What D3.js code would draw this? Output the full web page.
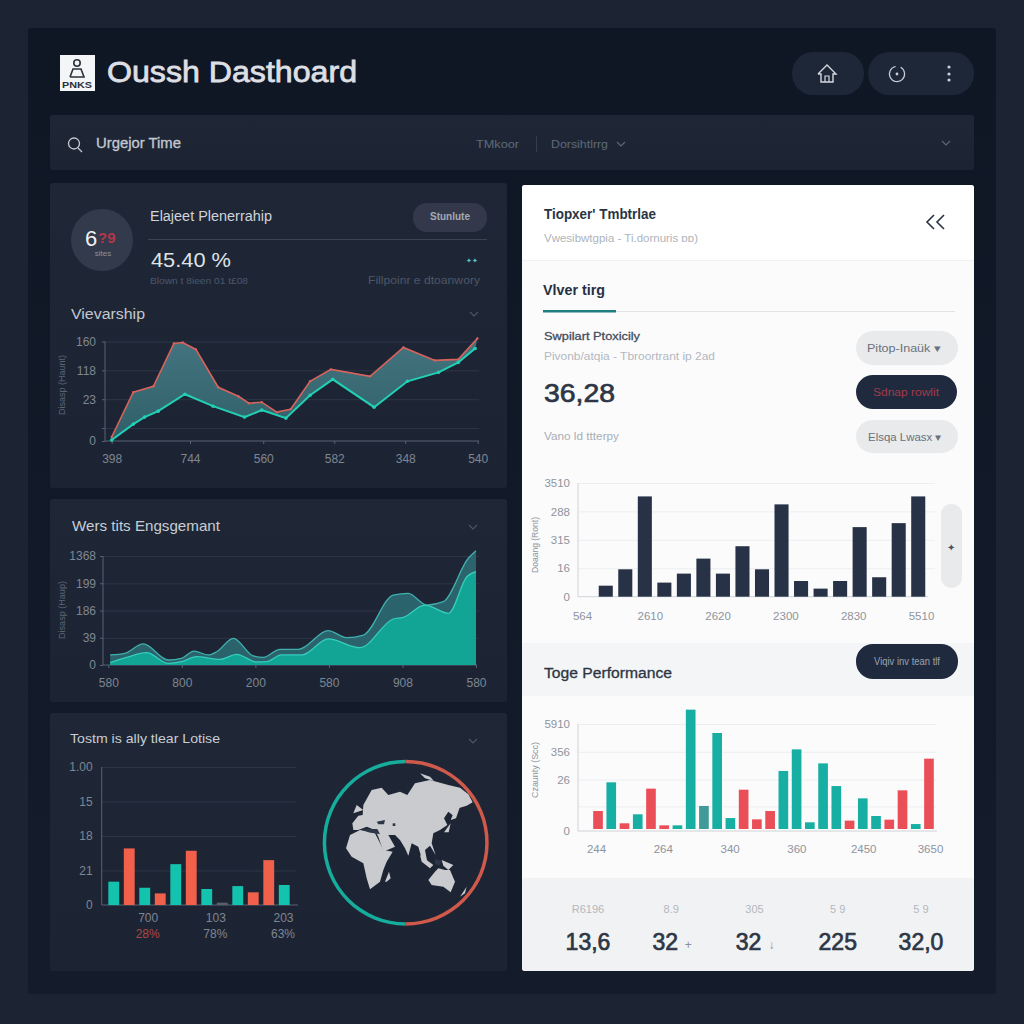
<!DOCTYPE html>
<meta charset="utf-8">
<script src="https://d3js.org/d3.v7.min.js"></script>
<style>
html, body { margin: 0; padding: 0; background: #1c2433; }
svg { display: block; }
text { font-family: "Liberation Sans", Arial, sans-serif; }
</style>
<svg width="1024" height="1024"></svg>

<script>
// viewership chart (top left)
var viewRedX = [0, 5.9, 11.4, 17, 19.4, 23, 29.1, 34.6, 37.5, 41, 45.1, 48.9, 54.2, 59.9, 70.6, 79.7, 88.3, 94.7, 99.9];
var viewRedY = [4, 49, 55, 98, 99, 92, 54, 45, 38, 39, 29, 32, 60, 72, 65, 94, 81, 82, 103];
var viewGreenX = [0, 5.9, 9, 12.7, 20, 27.7, 36.3, 41, 47.6, 54.2, 60.4, 71.7, 80.8, 89.3, 94.7, 99.3];
var viewGreenY = [1, 17, 24, 30, 47, 35, 24, 31, 23, 46, 62, 34, 60, 69, 79, 93];
var viewXLabels = ["398", "744", "560", "582", "348", "540"];
var viewXTicks = [0, 21.4, 41.4, 60.8, 80.2, 100];
var viewYLabels = ["0", "", "23", "118", "160"];
var viewYTicks = [0, 13, 42, 71, 100];

// engagement chart (middle left)
var engBackX = [0.5, 4.5, 9.5, 16.3, 19.9, 23.3, 27.2, 29.5, 34, 39.4, 42.2, 46.7, 51.7, 59.8, 64.8, 69.4, 77.5, 81.6, 86.6, 91.1, 97.9, 100];
var engBackY = [9.2, 10.7, 19.3, 4.6, 6.1, 12.8, 9.2, 12.2, 24.5, 8.3, 7, 14.4, 14.4, 31.5, 25.1, 27.5, 64.2, 65.7, 55, 58.1, 97.9, 104.9];
var engFrontX = [0.5, 5, 10.4, 16.3, 19.9, 24, 30.4, 34.9, 40.3, 43.1, 47.1, 52.6, 59.8, 68.4, 77.5, 80.2, 86.1, 92.5, 97.5, 100];
var engFrontY = [2.1, 7, 11.3, 1.5, 3.1, 7.6, 5.2, 9.8, 2.8, 3.1, 9.2, 9.2, 23.9, 15.9, 42.2, 43.7, 55, 47.4, 81, 85.6];
var engXLabels = ["580", "800", "200", "580", "908", "580"];
var engXTicks = [0, 20, 40, 60, 80, 100];
var engYLabels = ["0", "39", "186", "199", "1368"];
var engYTicks = [0, 25, 50, 75, 100];

// small bar chart (bottom left)
var lossValues = [16.9, 41, 12.5, 8.4, 29.6, 39.3, 11.6, 1.7, 13.7, 9.2, 32.5, 14.5];
var lossColors = ["t", "r", "t", "r", "t", "r", "t", "g", "t", "r", "r", "t"];
var lossYLabels = ["0", "21", "18", "15", "1.00"];
var lossYTicks = [0, 25, 50, 75, 100];
var lossXLabels = ["700", "103", "203"];
var lossXLabels2 = ["28%", "78%", "63%"];

// dark bar chart (right)
var darkValues = [9.7, 24.1, 88.2, 12.4, 20.3, 33.5, 20.3, 44.4, 24.1, 81.2, 13.8, 7.1, 13.8, 61.2, 17.1, 64.7, 88.2];
var darkYLabels = ["0", "16", "315", "288", "3510"];
var darkYTicks = [0, 25, 50, 75, 100];
var darkXLabels = ["564", "2610", "2620", "2300", "2830", "5510"];

// teal/red bar chart (right)
var perfValues = [18.7, 45.5, 7.2, 15.6, 39.6, 5.3, 5.3, 113.4, 23.4, 91.6, 12.1, 38.6, 10.9, 18.7, 56.1, 76.3, 8.1, 63.2, 42, 9.7, 30.5, 14, 10.6, 38, 6.5, 67.6];
var perfColors = ["r", "t", "r", "t", "r", "r", "t", "t", "d", "t", "t", "r", "r", "r", "t", "t", "t", "t", "t", "r", "t", "t", "r", "r", "t", "r"];
var perfYLabels = ["0", "", "26", "356", "5910"];
var perfYTicks = [0, 23, 48, 74, 100];
var perfXLabels = ["244", "264", "340", "360", "2450", "3650"];

// stat row
var statLabels = ["R6196", "8.9", "305", "5 9", "5 9"];
var statValues = ["13,6", "32", "32", "225", "32,0"];
var statMarks = ["", "+", "↓", "", ""];

var barColors = { t: "#17aea3", r: "#ea4f58", g: "#59606c", d: "#3f9a98" };

// rough world outline, in map units (the globe picture in the bottom left panel)
var landShapes = [
	[[97,205],[115,182],[128,180],[130,150],[155,105],[185,98],[205,120],[240,110],[262,120],[285,85],[330,75],[385,90],[420,98],[445,118],[458,142],[440,152],[415,160],[400,182],[385,170],[372,190],[382,210],[360,225],[340,235],[335,265],[347,300],[330,272],[315,285],[322,322],[305,310],[295,275],[275,265],[265,302],[255,280],[240,255],[225,240],[205,240],[225,275],[190,290],[175,245],[165,225],[140,215],[115,225],[100,225]],
	[[78,280],[90,240],[120,225],[165,235],[178,260],[190,285],[218,290],[200,320],[190,345],[180,380],[150,403],[140,370],[130,325],[95,305]],
	[[325,375],[345,350],[355,340],[375,345],[390,345],[405,380],[392,412],[370,395],[335,390]],
	[[195,380],[207,350],[212,370],[200,380]],
	[[300,300],[340,330],[330,340],[305,320]],
	[[365,315],[400,330],[385,345],[370,332]],
	[[405,165],[420,155],[408,190],[392,195]],
	[[372,232],[392,205],[386,232]],
	[[420,425],[440,395],[435,415]],
	[[300,55],[330,65],[342,78],[315,70]],
	[[130,165],[100,175],[110,150]]
];
var waterShapes = [
	[[170,200],[195,195],[192,208],[175,208]],
	[[218,205],[226,205],[226,213],[218,213]],
	[[125,222],[172,222],[180,238],[145,232]],
	[[345,312],[365,318],[358,332],[345,326]]
];

var svg = d3.select("svg");

// gradients for the panels and the filled areas
var defs = svg.append("defs");
function gradient(id, c1, c2) {
	var g = defs.append("linearGradient").attr("id", id).attr("x1", 0).attr("x2", 0).attr("y1", 0).attr("y2", 1);
	g.append("stop").attr("offset", "0%").attr("stop-color", c1);
	g.append("stop").attr("offset", "100%").attr("stop-color", c2);
}
gradient("page", "#0f1725", "#141c2b");
gradient("panel", "#1f2737", "#1c2434");
gradient("viewFill", "#44747f", "#2f5f68");

function box(x, y, w, h, fill, r) {
	return svg.append("rect").attr("x", x).attr("y", y).attr("width", w).attr("height", h)
		.attr("fill", fill).attr("rx", r || 0);
}
function label(txt, x, y, size, fill, opts) {
	opts = opts || {};
	var t = svg.append("text").attr("x", x).attr("y", y).attr("font-size", size).attr("fill", fill)
		.attr("text-anchor", opts.anchor || "start").attr("font-weight", opts.weight || "normal").text(txt);
	if (opts.width) t.attr("textLength", opts.width).attr("lengthAdjust", "spacingAndGlyphs");
	if (opts.rotate) t.attr("transform", "rotate(-90," + x + "," + y + ")");
	if (opts.heavy) t.attr("stroke", fill).attr("stroke-width", opts.heavy);
	return t;
}
function chevron(x, y, c) {
	svg.append("path").attr("d", d3.line()([[x - 4, y - 2], [x, y + 2], [x + 4, y - 2]]))
		.attr("fill", "none").attr("stroke", c).attr("stroke-width", 1.1);
}

// page and panels
box(0, 0, 1024, 1024, "#1c2433");
box(28, 28, 968, 966, "url(#page)", 3);
box(50, 115, 924, 55, "url(#panel)", 3);
box(50, 183, 457, 305, "url(#panel)", 3);
box(50, 499, 457, 203, "url(#panel)", 3);
box(50, 713, 457, 258, "url(#panel)", 3);
box(522, 185, 452, 786, "#fbfbfc", 3);
box(522, 185, 452, 75, "#ffffff", 3);
box(522, 643, 452, 53, "#f4f5f6");
box(522, 878, 452, 93, "#f1f2f3", 3);

// header
box(60, 55, 35, 36, "#f4f5f6");
svg.append("circle").attr("cx", 77).attr("cy", 63).attr("r", 3.2).attr("fill", "none").attr("stroke", "#2a303c").attr("stroke-width", 1.6);
svg.append("path").attr("d", d3.line()([[70, 77], [73, 69], [81, 69], [84, 77], [70, 77]])).attr("fill", "none").attr("stroke", "#2a303c").attr("stroke-width", 1.6);
label("PNKS", 77, 88, 9, "#2a303c", { anchor: "middle", weight: "bold", width: 30 });
label("Oussh Dasthoard", 107, 82, 30, "#dcdfe3", { width: 250, heavy: 0.8 });

box(792, 52, 72, 43, "#1e2738", 21);
box(868, 52, 106, 43, "#1e2738", 21);
svg.append("path").attr("d", d3.line()([[818, 74], [827, 65], [836, 74], [833, 74], [833, 82], [821, 82], [821, 74], [818, 74]]))
	.attr("fill", "none").attr("stroke", "#d5d9de").attr("stroke-width", 1.4);
svg.append("path").attr("d", d3.line()([[825, 82], [825, 76], [829, 76], [829, 82]])).attr("fill", "none").attr("stroke", "#d5d9de").attr("stroke-width", 1.2);
svg.append("path").attr("d", d3.arc()({ innerRadius: 7, outerRadius: 8.2, startAngle: 0.5, endAngle: 6.1 }))
	.attr("transform", "translate(897,74)").attr("fill", "#c9ced4");
svg.append("circle").attr("cx", 897).attr("cy", 74).attr("r", 1.4).attr("fill", "#c9ced4");
[67, 74, 80].forEach(function(y) {
	svg.append("circle").attr("cx", 949).attr("cy", y).attr("r", 1.6).attr("fill", "#c9ced4");
});

// search bar
svg.append("circle").attr("cx", 74).attr("cy", 143.5).attr("r", 5.5).attr("fill", "none").attr("stroke", "#c5cad0").attr("stroke-width", 1.3);
svg.append("path").attr("d", d3.line()([[78, 148], [82, 152]])).attr("stroke", "#c5cad0").attr("stroke-width", 1.3);
label("Urgejor Time", 96, 148, 14, "#c3c8cf", { width: 85, heavy: 0.3 });
label("TMkoor", 476, 148, 11, "#5f6978", { width: 43 });
box(536, 136, 1, 16, "#343d4d");
label("Dorsihtlrrg", 551, 148, 11, "#5f6978", { width: 57 });
chevron(621, 144, "#5f6978");
chevron(946, 143, "#5f6978");

// top left panel head
svg.append("circle").attr("cx", 102).attr("cy", 240).attr("r", 31).attr("fill", "#323a4c");
label("6", 85, 246, 22, "#f0f1f3");
label("?9", 98, 243, 15, "#b0384a", { weight: "bold" });
label("sites", 103, 256, 8, "#8a92a0", { anchor: "middle" });
label("Elajeet Plenerrahip", 150, 221, 14, "#d0d4da", { width: 122 });
box(413, 203, 74, 29, "#33394a", 14);
label("Stunlute", 450, 220, 10, "#a4aab4", { anchor: "middle", weight: "bold" });
box(148, 239, 339, 1, "#3a4454");
label("45.40 %", 151, 267, 21, "#dfe2e6", { width: 80 });
label("Blown t 8ieen 01 t£08", 150, 284, 9, "#4d5666", { width: 98 });
label("✦✦", 472, 263, 7, "#5fc4c0", { anchor: "middle" });
label("Fillpoinr e dtoanwory", 480, 284, 10, "#4d5666", { anchor: "end", width: 112 });
label("Vievarship", 71, 319, 14, "#c3c8cf", { width: 74 });
chevron(474, 314, "#4e5767");

// shared axes: gridlines, tick labels and baseline from the scales
function drawAxes(x, y, xVals, xLabels, yVals, yLabels, o) {
	var gridG = svg.append("g").attr("class", "grid")
		.attr("transform", "translate(" + o.left + ",0)")
		.call(d3.axisLeft(y).tickValues(yVals.slice(1)).tickSize(-(o.gridRight - o.left)).tickFormat(""));
	gridG.select(".domain").remove();
	gridG.selectAll("line").attr("stroke", o.grid);

	var yG = svg.append("g")
		.attr("transform", "translate(" + o.left + ",0)")
		.call(d3.axisLeft(y).tickValues(yVals).tickSize(o.tick).tickPadding(o.yPad)
			.tickFormat(function(d, i) { return yLabels[i]; }));
	yG.select(".domain").remove();
	yG.selectAll("line").attr("stroke", o.axis);
	yG.selectAll("text").attr("fill", o.text).attr("font-size", o.size);

	var xG = svg.append("g")
		.attr("transform", "translate(0," + o.bottom + ")")
		.call(d3.axisBottom(x).tickValues(xVals).tickSize(o.tick).tickPadding(o.xPad)
			.tickFormat(function(d, i) { return xLabels[i]; }));
	xG.select(".domain").remove();
	xG.selectAll("line").attr("stroke", o.axis);
	xG.selectAll("text").attr("fill", o.text).attr("font-size", o.size);

	// axis lines
	svg.append("path").attr("d", d3.line()([[o.left, y.range()[1]], [o.left, o.bottom], [o.right, o.bottom]]))
		.attr("fill", "none").attr("stroke", o.axis);
}
function zipXY(xs, ys) {
	return xs.map(function(d, i) { return [d, ys[i]]; });
}

var darkAxis = { axis: "#596272", grid: "#2d3647", text: "#7f8692", size: 12, tick: 3, yPad: 5, xPad: 10 };
function opts(base, more) {
	return Object.assign({}, base, more);
}

// viewership chart
var vx = d3.scaleLinear().domain([0, 100]).range([111.7, 477.7]);
var vy = d3.scaleLinear().domain([0, 100]).range([441, 341.5]);
drawAxes(vx, vy, viewXTicks, viewXLabels, viewYTicks, viewYLabels,
	opts(darkAxis, { left: 105, right: 479, gridRight: 479, bottom: 441, yPad: 6 }));
label("Disasp (Haunt)", 65, 385, 9, "#5c6575", { anchor: "middle", rotate: true, width: 60 });

var red = zipXY(viewRedX, viewRedY), green = zipXY(viewGreenX, viewGreenY);
var vLine = d3.line().x(function(d) { return vx(d[0]); }).y(function(d) { return vy(d[1]); });
svg.append("path").attr("d", vLine(red.concat(green.slice().reverse())) + "Z").attr("fill", "url(#viewFill)");
svg.append("path").attr("d", vLine(red)).attr("fill", "none").attr("stroke", "#d8635d").attr("stroke-width", 1.6);
svg.append("path").attr("d", vLine(green)).attr("fill", "none").attr("stroke", "#22d0b4").attr("stroke-width", 2);
svg.append("g").selectAll("circle").data(red).enter().append("circle")
	.attr("cx", function(d) { return vx(d[0]); }).attr("cy", function(d) { return vy(d[1]); })
	.attr("r", 1.2).attr("fill", "#d8635d");
svg.append("g").selectAll("circle").data(green).enter().append("circle")
	.attr("cx", function(d) { return vx(d[0]); }).attr("cy", function(d) { return vy(d[1]); })
	.attr("r", 1.8).attr("fill", "#22d0b4");

// engagement chart
label("Wers tits Engsgemant", 72, 531, 14.5, "#c9cdd3", { width: 148 });
chevron(473, 527, "#4e5767");
var ex = d3.scaleLinear().domain([0, 100]).range([108.3, 476]);
var ey = d3.scaleLinear().domain([0, 100]).range([665, 556]);
drawAxes(ex, ey, engXTicks, engXLabels, engYTicks, engYLabels,
	opts(darkAxis, { left: 103, right: 477, gridRight: 479, bottom: 665, yPad: 4 }));
label("Disasp (Haup)", 65, 610, 9, "#5c6575", { anchor: "middle", rotate: true, width: 58 });

var engArea = d3.area().x(function(d) { return ex(d[0]); }).y0(ey(0)).y1(function(d) { return ey(d[1]); }).curve(d3.curveMonotoneX);
var engLine = d3.line().x(function(d) { return ex(d[0]); }).y(function(d) { return ey(d[1]); }).curve(d3.curveMonotoneX);
var back = zipXY(engBackX, engBackY), front = zipXY(engFrontX, engFrontY);
svg.append("path").attr("d", engArea(back)).attr("fill", "#2e6a72").attr("fill-opacity", 0.9);
svg.append("path").attr("d", engArea(front)).attr("fill", "#12a596");
svg.append("path").attr("d", engLine(back)).attr("fill", "none").attr("stroke", "#3fb0ae").attr("stroke-width", 1.3);
svg.append("path").attr("d", engLine(front)).attr("fill", "none").attr("stroke", "#36cdbd").attr("stroke-width", 1.3);

// small bar chart
label("Tostm is ally tlear Lotise", 70, 743, 13, "#c9cdd3", { width: 150 });
chevron(473, 741, "#4e5767");
var lx = d3.scaleBand().domain(d3.range(lossValues.length)).range([106, 292]).paddingInner(0.3).paddingOuter(0.15);
var ly = d3.scaleLinear().domain([0, 100]).range([905, 767]);
var lossLabelX = d3.scalePoint().domain(lossXLabels).range([147.7, 283]);
drawAxes(lossLabelX, ly, lossXLabels, lossXLabels, lossYTicks, lossYLabels,
	opts(darkAxis, { left: 101.7, right: 298, gridRight: 296, bottom: 905, tick: 0, yPad: 9, xPad: 8 }));
svg.append("g").selectAll("rect").data(lossValues).enter().append("rect")
	.attr("x", function(d, i) { return lx(i); })
	.attr("y", function(d) { return ly(d); })
	.attr("width", lx.bandwidth())
	.attr("height", function(d) { return ly(0) - ly(d); })
	.attr("fill", function(d, i) { return { t: "#14c3ae", r: "#f0604a", g: "#59606c" }[lossColors[i]]; });
lossXLabels2.forEach(function(d, i) {
	label(d, lossLabelX(lossXLabels[i]), 938, 12, i == 0 ? "#b2453f" : "#7f8692", { anchor: "middle" });
});

// globe: ring split in two halves, land shapes inside
var ring = d3.arc().innerRadius(79.5).outerRadius(83);
svg.append("path").attr("d", ring({ startAngle: Math.PI, endAngle: 2 * Math.PI })).attr("transform", "translate(405.7,842.7)").attr("fill", "#17ad9c");
svg.append("path").attr("d", ring({ startAngle: 0, endAngle: Math.PI })).attr("transform", "translate(405.7,842.7)").attr("fill", "#cf5a4b");
var mapX = d3.scaleLinear().domain([0, 510]).range([320, 490]);
var mapY = d3.scaleLinear().domain([0, 525]).range([755, 930]);
var mapLine = d3.line().x(function(d) { return mapX(d[0]); }).y(function(d) { return mapY(d[1]); }).curve(d3.curveLinearClosed);
svg.append("g").selectAll("path").data(landShapes).enter().append("path")
	.attr("d", mapLine).attr("fill", "#c9cbce");
svg.append("g").selectAll("path").data(waterShapes).enter().append("path")
	.attr("d", mapLine).attr("fill", "#2c3648");

// right panel head
label("Tiopxer' Tmbtrlae", 544, 219, 14, "#2a3342", { weight: "bold", width: 112 });
label("Vwesibwtgpia  -  Ti.dornuris ɒɒ)", 544, 242, 10.5, "#aeb4bb", { width: 154 });
svg.append("path").attr("d", d3.line()([[934, 215], [927, 222], [934, 229]])).attr("fill", "none").attr("stroke", "#2a3342").attr("stroke-width", 1.6);
svg.append("path").attr("d", d3.line()([[944, 215], [937, 222], [944, 229]])).attr("fill", "none").attr("stroke", "#2a3342").attr("stroke-width", 1.6);
box(522, 260, 452, 1, "#f0f1f2");
label("Vlver tirg", 543, 295, 14.5, "#263040", { weight: "bold", width: 62 });
box(616, 311, 339, 1, "#e2e4e6");
box(543, 310, 73, 2.5, "#1f7f80");
label("Swpilart Ptoxicily", 544, 340, 11, "#454d5a", { width: 96, heavy: 0.3 });
label("Pivonb/atqia  -  Tbroortrant ip 2ad", 544, 360, 10.5, "#b3b8bf", { width: 171 });
label("36,28", 544, 402, 26, "#2d3644", { width: 71, heavy: 0.7 });
label("Vano ld ttterpy", 544, 440, 10, "#a8aeb5", { width: 75 });

box(856, 331, 102, 34, "#e9eaec", 17);
label("Pitop-Inaük ▾", 904, 352, 10.5, "#6a717c", { anchor: "middle", width: 74 });
box(856, 375, 101, 34, "#1f2a3e", 17);
label("Sdnap rowlit", 906, 396, 10.5, "#a13b4c", { anchor: "middle", width: 66 });
box(856, 420, 102, 33, "#e9eaec", 17);
label("Elsqa Lwasx ▾", 905, 441, 10.5, "#6a717c", { anchor: "middle", width: 74 });

// dark bar chart
var lightAxis = { axis: "#cfd2d6", grid: "#eceef0", text: "#8e949d", size: 11.5, tick: 0, yPad: 8, xPad: 15 };
var dx = d3.scaleBand().domain(d3.range(darkValues.length)).range([596, 928]).paddingInner(0.28).paddingOuter(0.14);
var dy = d3.scaleLinear().domain([0, 100]).range([596.7, 483]);
var darkLabelX = d3.scalePoint().domain(darkXLabels).range([582, 921]);
drawAxes(darkLabelX, dy, darkXLabels, darkXLabels, darkYTicks, darkYLabels,
	opts(lightAxis, { left: 578, right: 928, gridRight: 935, bottom: 596.7 }));
label("Doaang (Ront)", 538, 545, 9, "#8e949d", { anchor: "middle", rotate: true, width: 56 });
svg.append("g").selectAll("rect").data(darkValues).enter().append("rect")
	.attr("x", function(d, i) { return dx(i); })
	.attr("y", function(d) { return dy(d); })
	.attr("width", dx.bandwidth())
	.attr("height", function(d) { return dy(0) - dy(d); })
	.attr("fill", "#273247");

// scroll handle
box(941, 504, 21, 84, "#e9eaec", 10);
label("✦", 951, 551, 10, "#4a515d", { anchor: "middle" });

// performance section
label("Toge Performance", 544, 678, 14, "#2d3644", { width: 128, heavy: 0.3 });
box(856, 644, 102, 35, "#1f2a3e", 17);
label("Viqiv inv tean tlf", 907, 665, 10.5, "#9aa3ae", { anchor: "middle", width: 66 });

var px = d3.scaleBand().domain(d3.range(perfValues.length)).range([591.4, 935.6]).paddingInner(0.27).paddingOuter(0.135);
var py = d3.scaleLinear().domain([0, 100]).range([831, 724]);
var perfLabelX = d3.scalePoint().domain(perfXLabels).range([596, 930]);
drawAxes(perfLabelX, py, perfXLabels, perfXLabels, perfYTicks, perfYLabels,
	opts(lightAxis, { left: 578, right: 937, gridRight: 936, bottom: 831, xPad: 14 }));
label("Czaunty (Scc)", 538, 770, 9, "#8e949d", { anchor: "middle", rotate: true, width: 56 });
svg.append("g").selectAll("rect").data(perfValues).enter().append("rect")
	.attr("x", function(d, i) { return px(i); })
	.attr("y", function(d) { return py(d); })
	.attr("width", px.bandwidth())
	.attr("height", function(d) { return py(0) - py(d) - 2; })
	.attr("fill", function(d, i) { return barColors[perfColors[i]]; });

// stats row
var statX = d3.scalePoint().domain(d3.range(statLabels.length)).range([588, 921]);
statLabels.forEach(function(d, i) {
	label(d, statX(i), 913, 11, "#b3b8bf", { anchor: "middle" });
	label(statValues[i], statX(i) - (statMarks[i] ? 6 : 0), 950, 23, "#2d3644", { anchor: "middle", heavy: 0.7 });
	if (statMarks[i]) label(statMarks[i], statX(i) + 17, 949, 12, "#8a909a", { anchor: "middle" });
});
</script>
